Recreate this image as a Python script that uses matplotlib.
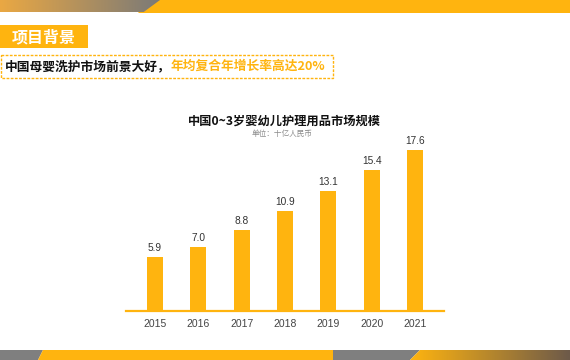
import numpy as np
import matplotlib
matplotlib.use("Agg")
import matplotlib.pyplot as plt
from matplotlib.patches import Polygon, Rectangle
from matplotlib.colors import to_rgb

plt.rcParams['font.family'] = ['Noto Sans CJK SC', 'DejaVu Sans']

# ---- data ----
years = ["2015", "2016", "2017", "2018", "2019", "2020", "2021"]
values = [5.9, 7.0, 8.8, 10.9, 13.1, 15.4, 17.6]
chart_title = "中国0~3岁婴幼儿护理用品市场规模"
chart_unit = "单位：十亿人民币"
section_label = "项目背景"
headline_black = "中国母婴洗护市场前景大好，"
headline_orange = "年均复合年增长率高达20%"

ORANGE = "#ffb40f"
GRAY = "#7f7f7f"

W, H = 570, 360
fig = plt.figure(figsize=(W / 100, H / 100), dpi=100)

# ---- decoration overlay in pixel coordinates ----
deco = fig.add_axes([0, 0, 1, 1], zorder=0)
deco.set_xlim(0, W)
deco.set_ylim(H, 0)
deco.axis("off")


def gradient_poly(ax, pts, c0, c1):
    xs = [p[0] for p in pts]
    ys = [p[1] for p in pts]
    x0, x1 = min(xs), max(xs)
    y0, y1 = min(ys), max(ys)
    a = np.array(to_rgb(c0))
    b = np.array(to_rgb(c1))
    t = np.linspace(0, 1, 256)[None, :, None]
    img = a + (b - a) * t
    img = np.repeat(img, 2, axis=0)
    poly = Polygon(pts, closed=True, facecolor="none", edgecolor="none")
    ax.add_patch(poly)
    im = ax.imshow(img, extent=[x0, x1, y1, y0], aspect="auto", interpolation="bilinear", zorder=1)
    im.set_clip_path(poly)


# top band
deco.add_patch(Polygon([(150, 0), (W, 0), (W, 12.5), (138, 12.5)], closed=True,
                       facecolor=ORANGE, edgecolor="none", zorder=1))
gradient_poly(deco, [(0, 0), (160, 0), (143, 12.5), (0, 12.5)], "#eaa843", "#7b7a78")

# bottom band
deco.add_patch(Polygon([(0, 350), (43, 350), (38, H), (0, H)], closed=True,
                       facecolor=GRAY, edgecolor="none", zorder=1))
deco.add_patch(Polygon([(43, 350), (333, 350), (333, H), (38, H)], closed=True,
                       facecolor=ORANGE, edgecolor="none", zorder=1))
deco.add_patch(Polygon([(333, 350), (420, 350), (410, H), (333, H)], closed=True,
                       facecolor=GRAY, edgecolor="none", zorder=1))
gradient_poly(deco, [(420, 350), (W, 350), (W, H), (410, H)], ORANGE, "#6d5a4a")

# section label box
deco.add_patch(Rectangle((0, 25), 88, 23, facecolor=ORANGE, edgecolor="none", zorder=1))
deco.text(44, 37, section_label, color="white", fontsize=11.5, fontweight="bold",
          ha="center", va="center", zorder=2)

# headline dashed box
deco.add_patch(Rectangle((0.5, 55), 332.5, 23, facecolor="none", edgecolor=ORANGE,
                         linewidth=1.0, linestyle=(0, (2, 1)), zorder=2))
t1 = deco.text(5, 66.5, headline_black, color="#111111", fontsize=9.2, fontweight="bold",
               ha="left", va="center", zorder=3)
deco.annotate(headline_orange, xy=(1, 0), xycoords=t1, color=ORANGE, fontsize=9.2,
              fontweight="bold", ha="left", va="bottom", zorder=3)

# chart title
deco.text(284, 121.5, chart_title, color="#111111", fontsize=8.8, fontweight="bold",
          ha="center", va="center", zorder=2)
deco.text(282, 134, chart_unit, color="#8a8a8a", fontsize=5.5,
          ha="center", va="center", zorder=2)

# ---- bar chart ----
ax = fig.add_axes([126 / W, (H - 310.5) / H, 318 / W, 170.5 / H], zorder=2)
ax.patch.set_alpha(0)
x = np.arange(len(years))
bars = ax.bar(x, values, width=0.37, color=ORANGE, zorder=2)
ax.set_xlim(-0.67, len(years) - 1 + 0.67)
ax.set_ylim(0, 18.75)
ax.set_xticks(x)
ax.set_xticklabels(years, fontsize=7.5, color="#444444", family=["Liberation Sans", "DejaVu Sans"])
ax.tick_params(axis="x", length=0, pad=6.2)
ax.set_yticks([])
for s in ["top", "right", "left"]:
    ax.spines[s].set_visible(False)
ax.spines["bottom"].set_color(ORANGE)
ax.spines["bottom"].set_linewidth(1.6)
for xi, v in zip(x, values):
    ax.annotate(f"{v:.1f}", xy=(xi, v), xytext=(0, 3), textcoords="offset points",
                ha="center", va="bottom", fontsize=7.3, color="#333333",
                family=["Liberation Sans", "DejaVu Sans"])

fig.savefig("out.png", dpi=100)
